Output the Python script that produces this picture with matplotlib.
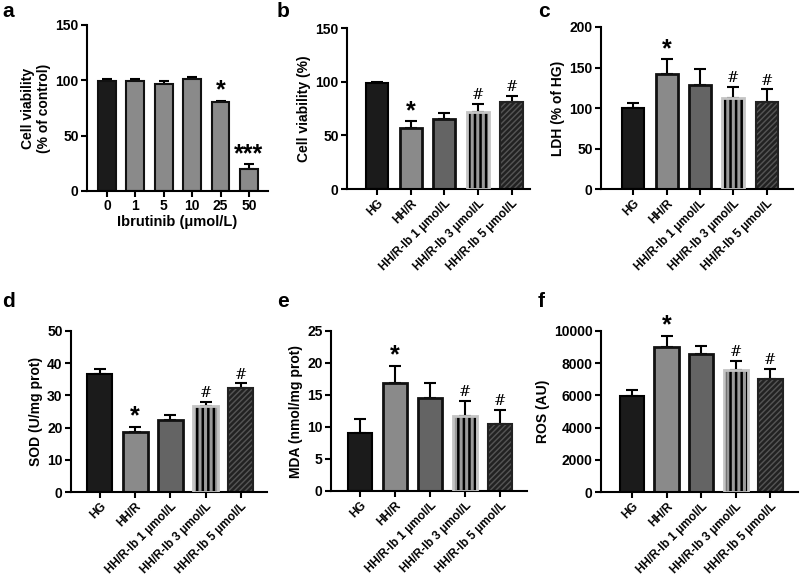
import numpy as np
import matplotlib
matplotlib.use("Agg")
import matplotlib.pyplot as plt

plt.rcParams['font.family'] = ['Liberation Sans', 'DejaVu Sans']
plt.rcParams['font.weight'] = 'bold'
plt.rcParams['hatch.linewidth'] = 1.8

# data
doses = ['0', '1', '5', '10', '25', '50']
viab_a = [99, 99.5, 97, 101, 80, 20]
viab_a_err = [2, 1.5, 2, 2, 1.5, 4]
sig_a = ['', '', '', '', '*', '***']

groups = ['HG', 'HH/R', 'HH/R-Ib 1 μmol/L', 'HH/R-Ib 3 μmol/L', 'HH/R-Ib 5 μmol/L']
sig = ['', '*', '', '#', '#']

viab_b = [99, 57, 65.5, 72, 81]
viab_b_err = [1, 6, 5.5, 7.5, 6]
ldh = [100, 142, 129, 112, 107]
ldh_err = [6, 18, 19, 14, 16]
sod = [36.5, 18.6, 22.4, 26.6, 32.4]
sod_err = [1.8, 1.6, 1.6, 1.4, 1.4]
mda = [9.1, 16.8, 14.5, 11.7, 10.5]
mda_err = [2.1, 2.8, 2.4, 2.4, 2.2]
ros = [5950, 9000, 8550, 7550, 7000]
ros_err = [400, 700, 500, 600, 650]

W, H = 800, 579
fig = plt.figure(figsize=(8, 5.79), dpi=100)


def make_ax(left, right, top, bottom):
    return fig.add_axes([left / W, (H - bottom) / H, (right - left) / W, (bottom - top) / H])


def style(ax, ymax, ystep, ylabel):
    ax.set_ylim(0, ymax)
    ax.set_yticks(np.arange(0, ymax + 1, ystep))
    for s in ['top', 'right']:
        ax.spines[s].set_visible(False)
    for s in ['left', 'bottom']:
        ax.spines[s].set_linewidth(1.5)
    ax.tick_params(width=1.5, length=4, labelsize=10, pad=2)
    ax.set_ylabel(ylabel, fontsize=10, fontweight='bold', labelpad=3)


def stars(ax, vals, errs, marks, ymax):
    for i, (v, e, m) in enumerate(zip(vals, errs, marks)):
        if not m:
            continue
        if m.startswith('*'):
            ax.text(i, v + e - ymax * 0.01, m, ha='center', va='bottom', fontsize=18, fontweight='bold')
        else:
            ax.text(i, v + e + ymax * 0.01, m, ha='center', va='bottom', fontsize=10.5, fontweight='normal',
                    family='DejaVu Serif')


def group_panel(ax, vals, errs, ymax, ystep, ylabel, width, xlim):
    x = np.arange(len(vals))
    ax.errorbar(x, vals, yerr=[np.zeros(len(vals)), errs], fmt='none', ecolor='black',
                elinewidth=1.5, capsize=4, capthick=1.5, zorder=1)
    ax.bar(x[0], vals[0], width, color='#1b1b1b', edgecolor='black', linewidth=1.5, zorder=2)
    ax.bar(x[1], vals[1], width, color='#8a8a8a', edgecolor='#111111', linewidth=2, zorder=2)
    ax.bar(x[2], vals[2], width, color='#646464', edgecolor='#111111', linewidth=2, zorder=2)
    ax.bar(x[3], vals[3], width, color='#9a9a9a', edgecolor='black', hatch='|||', linewidth=0, zorder=2)
    ax.bar(x[3], vals[3], width, fill=False, edgecolor='#c4c4c4', linewidth=2, zorder=3)
    ax.bar(x[4], vals[4], width, color='#555555', edgecolor='#222222', hatch='//////', linewidth=1.5, zorder=2)
    style(ax, ymax, ystep, ylabel)
    ax.set_xlim(*xlim)
    ax.set_xticks(x)
    ax.set_xticklabels(groups, rotation=45, ha='right', rotation_mode='anchor', fontsize=8.5)
    stars(ax, vals, errs, sig, ymax)


# panel a
ax = make_ax(87, 268, 25, 191)
x = np.arange(len(doses))
ax.errorbar(x, viab_a, yerr=[np.zeros(len(x)), viab_a_err], fmt='none', ecolor='black',
            elinewidth=1.5, capsize=3.5, capthick=1.5, zorder=1)
ax.bar(x, viab_a, 0.63, color=['#1b1b1b'] + ['#8a8a8a'] * 5, edgecolor='#111111', linewidth=1.5, zorder=2)
style(ax, 150, 50, 'Cell viability\n(% of control)')
ax.set_xlim(-0.7, 5.67)
ax.set_xticks(x)
ax.set_xticklabels(doses, fontsize=10)
ax.set_xlabel('Ibrutinib (μmol/L)', fontsize=10.5, fontweight='bold', labelpad=1)
stars(ax, viab_a, viab_a_err, sig_a, 150)

# panel b
ax = make_ax(347, 530, 28, 189)
group_panel(ax, viab_b, viab_b_err, 150, 50, 'Cell viability (%)', 0.66, (-0.9, 4.55))

# panel c
ax = make_ax(601, 793, 27, 189)
group_panel(ax, ldh, ldh_err, 200, 50, 'LDH (% of HG)', 0.66, (-0.96, 4.78))

# panel d
ax = make_ax(71, 267, 331, 492)
group_panel(ax, sod, sod_err, 50, 10, 'SOD (U/mg prot)', 0.71, (-0.82, 4.74))

# panel e
ax = make_ax(331, 527, 331, 491)
group_panel(ax, mda, mda_err, 25, 5, 'MDA (nmol/mg prot)', 0.71, (-0.83, 4.77))

# panel f
ax = make_ax(601, 798, 331, 492)
group_panel(ax, ros, ros_err, 10000, 2000, 'ROS (AU)', 0.71, (-0.9, 4.8))

# panel letters
for lab, px, py in [('a', 2, 2), ('b', 277, 2), ('c', 538, 2), ('d', 2, 292), ('e', 277, 292), ('f', 538, 292)]:
    fig.text(px / W, 1 - py / H, lab, fontsize=15, fontweight='bold', va='top', ha='left')

fig.savefig('out.png', dpi=100)
